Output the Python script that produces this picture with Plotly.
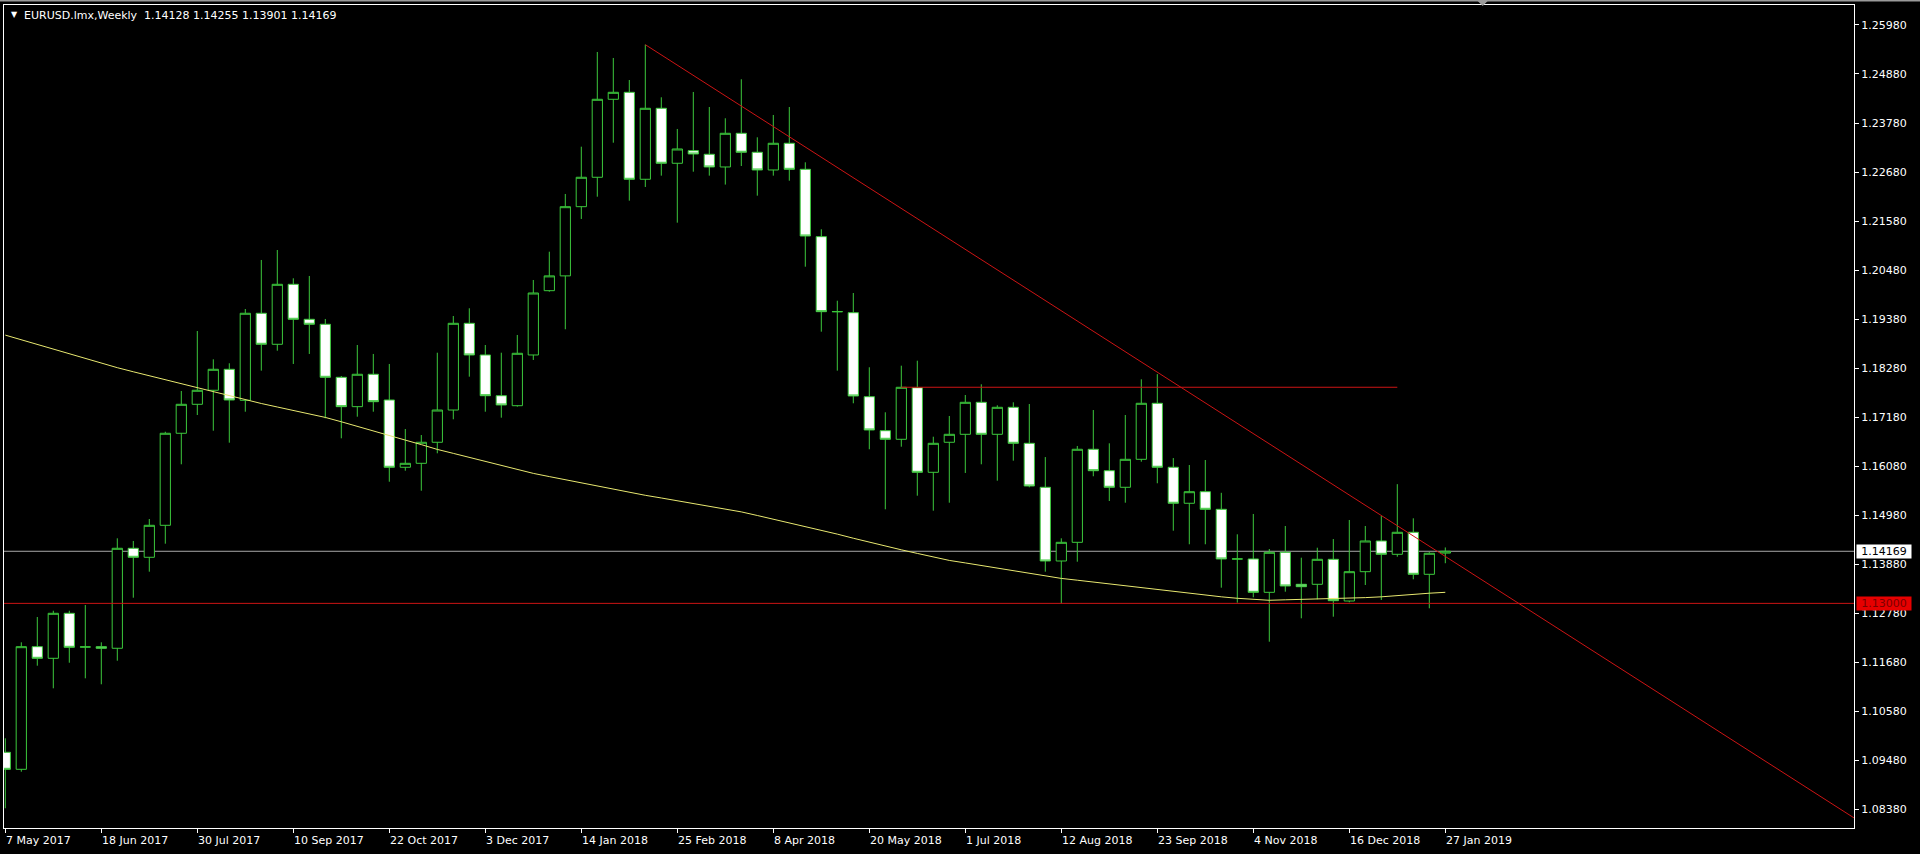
import pandas as pd
import plotly.graph_objects as go

# ---------------- data ----------------
start_date = pd.Timestamp("2017-05-07")
n_bars = 91
dates = pd.date_range(start_date, periods=n_bars, freq="7D")

opens = [1.09658, 1.09276, 1.12028, 1.11767, 1.12777, 1.12019, 1.12028, 1.11992, 1.14236, 1.14034,
         1.14752, 1.16817, 1.17467, 1.17782, 1.18253, 1.17557, 1.19510, 1.18814, 1.20160, 1.19375,
         1.19263, 1.18073, 1.17414, 1.18141, 1.17564, 1.16054, 1.16143, 1.16615, 1.17339, 1.19285,
         1.18574, 1.17660, 1.17436, 1.18574, 1.20017, 1.20349, 1.21902, 1.22562, 1.24312, 1.24469,
         1.22517, 1.24110, 1.22876, 1.23159, 1.23078, 1.22793, 1.23549, 1.23123, 1.22726, 1.23325,
         1.22741, 1.21229, 1.19544, 1.19523, 1.17638, 1.16875, 1.16682, 1.17840, 1.15941, 1.16615,
         1.16794, 1.17512, 1.16794, 1.17400, 1.16592, 1.15605, 1.13951, 1.14370, 1.16458, 1.15977,
         1.15605, 1.16233, 1.17490, 1.16054, 1.15246, 1.15506, 1.15111, 1.13994, 1.13996, 1.13248,
         1.14146, 1.13428, 1.13428, 1.13989, 1.13053, 1.13711, 1.14400, 1.14101, 1.14595, 1.13652,
         1.14128]
highs = [1.09972, 1.12126, 1.12694, 1.12835, 1.12835, 1.12963, 1.12126, 1.14460, 1.14400, 1.14893,
         1.16852, 1.17766, 1.19112, 1.18477, 1.18388, 1.19606, 1.20706, 1.20930, 1.20295, 1.20347,
         1.19382, 1.18103, 1.18798, 1.18597, 1.18372, 1.16913, 1.16778, 1.18625, 1.19449, 1.19622,
         1.18798, 1.18625, 1.19023, 1.20257, 1.20892, 1.22187, 1.23248, 1.25374, 1.25239, 1.24745,
         1.25538, 1.24357, 1.23646, 1.24476, 1.24139, 1.23886, 1.24761, 1.23459, 1.23960, 1.24139,
         1.22898, 1.21395, 1.19792, 1.19965, 1.18298, 1.17288, 1.18334, 1.18446, 1.16740, 1.17205,
         1.17676, 1.17916, 1.17445, 1.17512, 1.17474, 1.16283, 1.14460, 1.16532, 1.17339, 1.16592,
         1.17227, 1.18028, 1.18144, 1.16261, 1.16105, 1.16217, 1.15481, 1.14550, 1.15006, 1.14220,
         1.14736, 1.14025, 1.14249, 1.14444, 1.14871, 1.14736, 1.14961, 1.15675, 1.14909, 1.14150,
         1.14255]
lows = [1.08401, 1.09222, 1.11601, 1.11094, 1.11668, 1.11318, 1.11184, 1.11713, 1.13127, 1.13711,
        1.14339, 1.16121, 1.17227, 1.16875, 1.16606, 1.17301, 1.18222, 1.18670, 1.18372, 1.18597,
        1.17153, 1.16704, 1.17189, 1.17301, 1.15730, 1.15977, 1.15528, 1.16368, 1.17131, 1.18087,
        1.17301, 1.17167, 1.17414, 1.18462, 1.19994, 1.19151, 1.21626, 1.22126, 1.23338, 1.22037,
        1.22344, 1.22598, 1.21543, 1.22687, 1.22598, 1.22398, 1.22815, 1.22149, 1.22598, 1.22485,
        1.20555, 1.19097, 1.18222, 1.17490, 1.16458, 1.15111, 1.16516, 1.15416, 1.15080, 1.15259,
        1.15926, 1.16121, 1.15753, 1.16202, 1.15605, 1.13711, 1.13001, 1.13935, 1.15852, 1.15297,
        1.15259, 1.16179, 1.15695, 1.14631, 1.14326, 1.14326, 1.13352, 1.13015, 1.13136, 1.12140,
        1.13262, 1.12665, 1.13091, 1.12701, 1.13024, 1.13412, 1.13076, 1.14047, 1.13540, 1.12889,
        1.13901]
closes = [1.09276, 1.12028, 1.11767, 1.12777, 1.12014, 1.12023, 1.11992, 1.14236, 1.14034, 1.14752,
          1.16817, 1.17467, 1.17782, 1.18253, 1.17564, 1.19510, 1.18814, 1.20160, 1.19375, 1.19263,
          1.18073, 1.17414, 1.18141, 1.17526, 1.16054, 1.16143, 1.16615, 1.17339, 1.19285, 1.18574,
          1.17660, 1.17452, 1.18612, 1.19965, 1.20349, 1.21902, 1.22562, 1.24312, 1.24469, 1.22517,
          1.24110, 1.22876, 1.23197, 1.23085, 1.22793, 1.23549, 1.23123, 1.22726, 1.23325, 1.22741,
          1.21244, 1.19546, 1.19548, 1.17654, 1.16891, 1.16682, 1.17849, 1.15941, 1.16592, 1.16794,
          1.17512, 1.16794, 1.17400, 1.16592, 1.15634, 1.13951, 1.14370, 1.16458, 1.15977, 1.15605,
          1.16233, 1.17490, 1.16054, 1.15246, 1.15506, 1.15111, 1.13996, 1.13998, 1.13248, 1.14146,
          1.13390, 1.13374, 1.13989, 1.13060, 1.13711, 1.14400, 1.14101, 1.14595, 1.13652, 1.14124,
          1.14169]
moving_avg = [1.19020, 1.18915, 1.18807, 1.18700, 1.18594, 1.18486, 1.18381, 1.18289, 1.18197, 1.18107,
              1.18022, 1.17934, 1.17847, 1.17752, 1.17656, 1.17562, 1.17485, 1.17407, 1.17331, 1.17252,
              1.17173, 1.17075, 1.16976, 1.16877, 1.16776, 1.16664, 1.16563, 1.16455, 1.16366, 1.16276,
              1.16186, 1.16096, 1.16006, 1.15917, 1.15845, 1.15773, 1.15701, 1.15630, 1.15558, 1.15486,
              1.15425, 1.15365, 1.15304, 1.15246, 1.15185, 1.15125, 1.15053, 1.14972, 1.14891, 1.14810,
              1.14727, 1.14644, 1.14554, 1.14462, 1.14370, 1.14283, 1.14202, 1.14121, 1.14040, 1.13964,
              1.13908, 1.13850, 1.13791, 1.13735, 1.13677, 1.13619, 1.13560, 1.13520, 1.13477, 1.13435,
              1.13394, 1.13352, 1.13309, 1.13266, 1.13224, 1.13183, 1.13147, 1.13114, 1.13091, 1.13069,
              1.13080, 1.13089, 1.13093, 1.13098, 1.13111, 1.13129, 1.13147, 1.13176, 1.13208, 1.13228,
              1.13248]

date_labels = ["7 May 2017", "18 Jun 2017", "30 Jul 2017", "10 Sep 2017", "22 Oct 2017",
               "3 Dec 2017", "14 Jan 2018", "25 Feb 2018", "8 Apr 2018", "20 May 2018",
               "1 Jul 2018", "12 Aug 2018", "23 Sep 2018", "4 Nov 2018", "16 Dec 2018",
               "27 Jan 2019"]
price_ticks = [1.25980, 1.24880, 1.23780, 1.22680, 1.21580, 1.20480, 1.19380, 1.18280, 1.17180,
               1.16080, 1.14980, 1.13880, 1.12780, 1.11680, 1.10580, 1.09480, 1.08380]

# trend line (ray) anchors: week index and price
trend_weeks = [40, 120]
trend_prices = [1.25538, 1.07162]
# horizontal resistance segment
resist_weeks = [56, 87]
resist_price = 1.1785
support_price = 1.13000
bid_price = 1.14169
title_text = "EURUSD.lmx,Weekly&nbsp; 1.14128 1.14255 1.13901 1.14169"

# ---------------- styles ----------------
GREEN = "#3cc83c"
RED = "#cc1414"
FONT = "DejaVu Sans"

tick_dates = pd.to_datetime(date_labels, format="%d %b %Y")
trend_x = [start_date + pd.Timedelta(weeks=w) for w in trend_weeks]
resist_x = [start_date + pd.Timedelta(weeks=w) for w in resist_weeks]
x_range = [start_date - pd.Timedelta(days=0.57), start_date + pd.Timedelta(days=808.8)]

fig = go.Figure()
fig.add_trace(go.Candlestick(
    x=dates, open=opens, high=highs, low=lows, close=closes,
    increasing=dict(line=dict(color=GREEN, width=1), fillcolor="black"),
    decreasing=dict(line=dict(color=GREEN, width=1), fillcolor="white"),
    whiskerwidth=0, hoverinfo="skip", name="EURUSD",
))
fig.add_trace(go.Scatter(x=dates, y=moving_avg, mode="lines",
                         line=dict(color="#e8e870", width=1), hoverinfo="skip"))
fig.add_trace(go.Scatter(x=trend_x, y=trend_prices, mode="lines",
                         line=dict(color=RED, width=1), hoverinfo="skip"))
fig.add_trace(go.Scatter(x=resist_x, y=[resist_price, resist_price], mode="lines",
                         line=dict(color=RED, width=1), hoverinfo="skip"))

shapes = [
    dict(type="line", xref="paper", yref="y", x0=0, x1=1, y0=bid_price, y1=bid_price,
         line=dict(color="#a8a8a8", width=1), layer="below"),
    dict(type="line", xref="paper", yref="y", x0=0, x1=1, y0=support_price, y1=support_price,
         line=dict(color=RED, width=1), layer="above"),
    # window top frame
    dict(type="line", xref="paper", yref="paper", x0=-0.01, x1=1.05, y0=1.0055, y1=1.0055,
         line=dict(color="#9a9a9a", width=2)),
    # chart-shift marker
    dict(type="path", xref="paper", yref="paper", xsizemode="pixel", ysizemode="pixel",
         xanchor=0.7993, yanchor=1, path="M -6 5 L 6 5 L 0 -1 Z",
         fillcolor="#9a9a9a", line=dict(color="#9a9a9a", width=0)),
]

annotations = []
for d, t in zip(tick_dates, date_labels):
    annotations.append(dict(x=d, y=0, xref="x", yref="paper", text=t, showarrow=False,
                            xanchor="left", yanchor="top", yshift=-4, xshift=-1,
                            font=dict(family=FONT, size=11, color="white")))
annotations.append(dict(x=0, y=1, xref="paper", yref="paper", text="▼", showarrow=False,
                        xanchor="left", yanchor="top", xshift=5, yshift=-3,
                        font=dict(family=FONT, size=8, color="white")))
annotations.append(dict(x=0, y=1, xref="paper", yref="paper", text=title_text, showarrow=False,
                        xanchor="left", yanchor="top", xshift=18, yshift=-2,
                        font=dict(family=FONT, size=11, color="white")))
annotations.append(dict(x=1, y=bid_price, xref="paper", yref="y", text=f"{bid_price:.5f}",
                        showarrow=False, xanchor="left", yanchor="middle", xshift=2,
                        bgcolor="white", width=54, height=13, borderpad=0,
                        font=dict(family=FONT, size=11, color="black")))
annotations.append(dict(x=1, y=support_price, xref="paper", yref="y", text=f"{support_price:.5f}",
                        showarrow=False, xanchor="left", yanchor="middle", xshift=2,
                        bgcolor="#e60000", width=54, height=13, borderpad=0,
                        font=dict(family=FONT, size=11, color="#7a0000")))

fig.update_layout(
    width=1920, height=854,
    margin=dict(l=4, r=66, t=5, b=26),
    paper_bgcolor="black", plot_bgcolor="black",
    showlegend=False,
    boxgap=0.2, boxgroupgap=0.2,
    font=dict(family=FONT, size=11, color="white"),
    xaxis=dict(type="date", range=x_range, showgrid=False, zeroline=False,
               showline=True, linecolor="white", linewidth=1, mirror=True,
               ticks="outside", ticklen=4, tickcolor="white", tickwidth=1,
               tickvals=tick_dates, showticklabels=False,
               rangeslider=dict(visible=False), fixedrange=True),
    yaxis=dict(side="right", range=[1.07959, 1.26428], showgrid=False, zeroline=False,
               showline=True, linecolor="white", linewidth=1, mirror=True,
               ticks="outside", ticklen=4, tickcolor="white", tickwidth=1,
               tickvals=price_ticks, ticktext=[f"{v:.5f}" for v in price_ticks],
               tickfont=dict(family=FONT, size=11, color="white"), fixedrange=True),
    shapes=shapes,
    annotations=annotations,
)

fig.write_html("out.html", config={"displayModeBar": False},
               post_script="document.body.style.margin='0';document.body.style.background='black';")
